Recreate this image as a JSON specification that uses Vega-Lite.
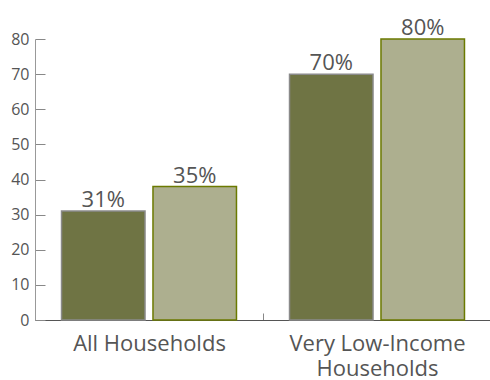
{
  "$schema": "https://vega.github.io/schema/vega-lite/v6.json",
  "width": 456,
  "height": 281,
  "autosize": {"type": "none"},
  "padding": {"left": 35, "top": 39, "right": 0, "bottom": 60},
  "background": "white",
  "config": {"view": {"stroke": null}, "font": "Open Sans"},
  "data": {"values": [
    {"group": "All Households", "series": "Series 1", "value": 31, "label": "31%"},
    {"group": "All Households", "series": "Series 2", "value": 38, "label": "35%"},
    {"group": "Very Low-Income Households", "series": "Series 1", "value": 70, "label": "70%"},
    {"group": "Very Low-Income Households", "series": "Series 2", "value": 80, "label": "80%"}
  ]},
  "encoding": {
    "x": {"field": "group", "type": "nominal", "sort": null,
      "scale": {"paddingInner": 0, "paddingOuter": 0},
      "axis": {"title": null, "labelAngle": 0, "labelFontSize": 22, "labelFontWeight": 400, "labelColor": "#555", "labelPadding": 37,
        "labelExpr": "datum.label == 'Very Low-Income Households' ? ['Very Low-Income', 'Households'] : datum.label",
        "labelLineHeight": 25, "labelBaseline": "alphabetic",
        "domainColor": "#555", "tickBand": "extent", "tickSize": -7, "tickColor": "#888"}},
    "xOffset": {"field": "series", "type": "nominal", "scale": {"paddingInner": 0.087, "paddingOuter": 0.29}},
    "y": {"field": "value", "type": "quantitative",
      "scale": {"domain": [0, 80], "nice": false},
      "axis": {"title": null, "values": [0,10,20,30,40,50,60,70,80], "grid": false, "labelFontSize": 16, "labelFontWeight": 400, "labelColor": "#555",
        "tickSize": -10, "tickColor": "#888", "domainColor": "#999", "labelPadding": 16}}
  },
  "layer": [
    {"mark": {"type": "bar", "strokeWidth": 1.5},
      "encoding": {
        "color": {"field": "series", "type": "nominal", "scale": {"range": ["#6f7444", "#adaf8f"]}, "legend": null},
        "stroke": {"field": "series", "type": "nominal", "scale": {"range": ["#8a8a8a", "#6b7a00"]}, "legend": null}
      }},
    {"mark": {"type": "text", "baseline": "alphabetic", "dy": -4, "fontSize": 22, "fontWeight": 400, "color": "#555"},
      "encoding": {"text": {"field": "label"}}}
  ]
}
